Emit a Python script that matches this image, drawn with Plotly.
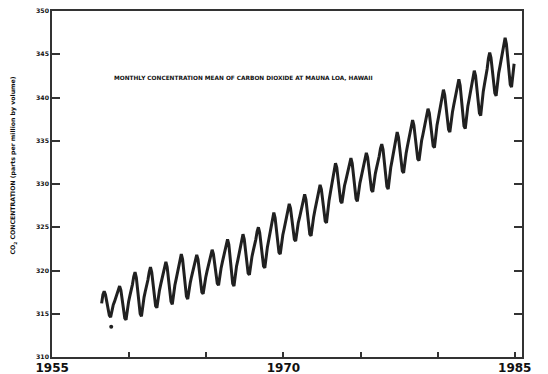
import plotly.graph_objects as go

# Monthly mean CO2 (ppm), Mauna Loa (Mar 1958 - Dec 1984)
start_year = 1958
start_month = 3
co2_1958 = [316.2, 317.2, 317.6, 317.2, 316.4, 315.4, 314.8, 314.6, 315.4, 316.0]
co2_1959 = [316.4, 316.8, 317.3, 317.8, 318.2, 317.7, 316.6, 315.4, 314.5, 314.3, 315.5, 316.4]
co2_1960 = [317.1, 317.7, 318.4, 319.3, 319.8, 319.2, 317.8, 316.1, 315.0, 314.7, 316.0, 316.9]
co2_1961 = [317.6, 318.2, 318.9, 319.8, 320.4, 319.8, 318.5, 317.0, 315.9, 315.7, 316.9, 317.7]
co2_1962 = [318.4, 319.0, 319.6, 320.5, 321.0, 320.4, 319.0, 317.5, 316.4, 316.1, 317.4, 318.3]
co2_1963 = [319.0, 319.7, 320.4, 321.3, 321.9, 321.3, 319.8, 318.2, 317.0, 316.7, 317.8, 318.6]
co2_1964 = [319.3, 319.9, 320.5, 321.3, 321.8, 321.3, 320.0, 318.6, 317.5, 317.3, 318.4, 319.2]
co2_1965 = [319.9, 320.5, 321.1, 321.9, 322.4, 321.9, 320.8, 319.5, 318.5, 318.3, 319.5, 320.3]
co2_1966 = [321.0, 321.6, 322.2, 323.1, 323.6, 323.0, 321.4, 319.7, 318.5, 318.2, 319.5, 320.5]
co2_1967 = [321.2, 321.9, 322.6, 323.6, 324.2, 323.6, 322.3, 320.8, 319.7, 319.5, 320.7, 321.6]
co2_1968 = [322.3, 322.9, 323.6, 324.5, 325.0, 324.4, 323.1, 321.6, 320.5, 320.3, 321.7, 322.7]
co2_1969 = [323.5, 324.3, 325.0, 326.1, 326.7, 326.1, 324.8, 323.2, 322.1, 321.9, 323.2, 324.1]
co2_1970 = [324.8, 325.5, 326.2, 327.1, 327.7, 327.2, 326.0, 324.6, 323.6, 323.4, 324.6, 325.5]
co2_1971 = [326.1, 326.8, 327.4, 328.3, 328.8, 328.2, 326.9, 325.3, 324.2, 324.0, 325.3, 326.2]
co2_1972 = [327.0, 327.7, 328.4, 329.3, 329.9, 329.4, 328.1, 326.7, 325.7, 325.5, 327.0, 328.1]
co2_1973 = [329.0, 329.8, 330.6, 331.7, 332.4, 331.9, 330.6, 329.1, 328.0, 327.8, 328.9, 329.8]
co2_1974 = [330.4, 331.0, 331.7, 332.5, 333.0, 332.4, 331.0, 329.4, 328.3, 328.0, 329.2, 330.1]
co2_1975 = [330.8, 331.5, 332.1, 333.0, 333.6, 333.1, 331.8, 330.4, 329.3, 329.1, 330.3, 331.2]
co2_1976 = [331.9, 332.5, 333.2, 334.1, 334.6, 334.0, 332.5, 330.9, 329.7, 329.4, 330.9, 331.9]
co2_1977 = [332.7, 333.5, 334.3, 335.3, 336.0, 335.4, 334.1, 332.6, 331.5, 331.3, 332.6, 333.6]
co2_1978 = [334.4, 335.1, 335.8, 336.8, 337.4, 336.8, 335.5, 334.0, 332.9, 332.7, 334.0, 335.0]
co2_1979 = [335.7, 336.4, 337.1, 338.1, 338.7, 338.2, 336.9, 335.5, 334.4, 334.2, 335.7, 336.8]
co2_1980 = [337.6, 338.4, 339.2, 340.2, 340.9, 340.3, 338.9, 337.4, 336.3, 336.0, 337.3, 338.3]
co2_1981 = [339.1, 339.8, 340.5, 341.5, 342.1, 341.4, 339.8, 338.0, 336.7, 336.4, 337.9, 339.0]
co2_1982 = [339.8, 340.6, 341.4, 342.4, 343.1, 342.5, 341.0, 339.4, 338.2, 337.9, 339.5, 340.7]
co2_1983 = [341.6, 342.4, 343.3, 344.5, 345.2, 344.6, 343.2, 341.6, 340.5, 340.2, 341.7, 342.8]
co2_1984 = [343.6, 344.4, 345.2, 346.2, 346.9, 346.2, 344.6, 342.8, 341.5, 341.2, 342.8, 343.9]

co2_by_year = [co2_1958, co2_1959, co2_1960, co2_1961, co2_1962, co2_1963, co2_1964,
               co2_1965, co2_1966, co2_1967, co2_1968, co2_1969, co2_1970, co2_1971,
               co2_1972, co2_1973, co2_1974, co2_1975, co2_1976, co2_1977, co2_1978,
               co2_1979, co2_1980, co2_1981, co2_1982, co2_1983, co2_1984]

# stray low reading plotted as a lone dot
outlier_time = [1958.83]
outlier_co2 = [313.5]

x_ticks = [1955, 1960, 1965, 1970, 1975, 1980, 1985]
x_tick_text = ["1955", "", "", "1970", "", "", "1985"]
y_ticks = [310, 315, 320, 325, 330, 335, 340, 345, 350]

title_text = "MONTHLY CONCENTRATION MEAN OF CARBON DIOXIDE AT MAUNA LOA, HAWAII"
y_title = "CO<sub>2</sub> CONCENTRATION (parts per million by volume)"

times, values = [], []
for i, row in enumerate(co2_by_year):
    y = start_year + i
    m0 = start_month if i == 0 else 1
    for j, v in enumerate(row):
        m = m0 + j
        times.append(y + (m - 0.5) / 12.0)
        values.append(v)

# page body has an 8px margin: the figure box starts at (8, 8) in the window
ink = "#202020"
fig = go.Figure()
fig.add_trace(go.Scatter(x=times, y=values, mode="lines",
                         line=dict(color=ink, width=3.0),
                         showlegend=False, hoverinfo="skip"))
fig.add_trace(go.Scatter(x=outlier_time, y=outlier_co2, mode="markers",
                         marker=dict(color=ink, size=4), showlegend=False))

fig.update_layout(
    width=540, height=366,
    margin=dict(l=44, r=26, t=3, b=17),
    paper_bgcolor="white", plot_bgcolor="white",
    xaxis=dict(range=[1954.99, 1985.47], tickvals=x_ticks, ticktext=x_tick_text,
               ticks="inside", ticklen=5, tickwidth=1.5, tickcolor="#333",
               showline=True, linecolor="#333", linewidth=1.6, mirror=True,
               showgrid=False, zeroline=False, automargin=False,
               ticklabeloverflow="allow", ticklabelstandoff=-1,
               tickfont=dict(family="DejaVu Sans", size=12, color="#111", weight="bold")),
    yaxis=dict(range=[310, 350], tickvals=y_ticks,
               ticks="inside", ticklen=8, tickwidth=1.5, tickcolor="#333",
               showline=True, linecolor="#333", linewidth=1.6, mirror="ticks",
               showgrid=False, zeroline=False, automargin=False,
               ticklabeloverflow="allow",
               tickfont=dict(family="DejaVu Sans", size=6.2, color="#111", weight="bold")),
    annotations=[
        dict(text=title_text, xref="paper", yref="paper", x=(112 - 52) / 470, y=(357 - 77) / 347,
             xanchor="left", yanchor="middle", showarrow=False,
             font=dict(family="DejaVu Sans", size=5.8, color="#111", weight="bold")),
        dict(text=y_title, xref="paper", yref="paper", x=(13 - 52) / 470, y=(357 - 165) / 347,
             xanchor="center", yanchor="middle", textangle=-90, showarrow=False,
             font=dict(family="DejaVu Sans", size=6.2, color="#111", weight="bold")),
    ],
)

fig.write_html("out.html")
